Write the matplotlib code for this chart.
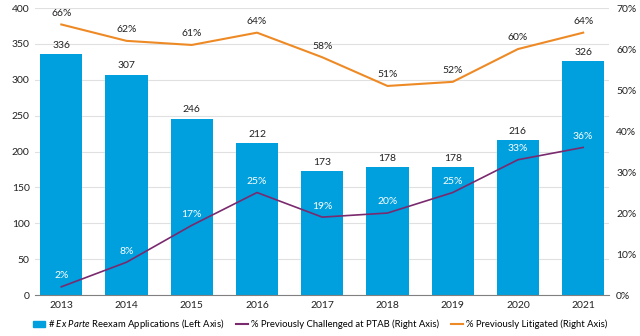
import matplotlib
matplotlib.use("Agg")
import matplotlib.pyplot as plt
from matplotlib.ticker import FuncFormatter
from matplotlib.lines import Line2D
from matplotlib.patches import Patch

plt.rcParams['font.family'] = ['Lato', 'DejaVu Sans']
plt.rcParams['mathtext.fontset'] = 'custom'
plt.rcParams['mathtext.rm'] = 'Lato'
plt.rcParams['mathtext.it'] = 'Lato:italic'

years = ['2013', '2014', '2015', '2016', '2017', '2018', '2019', '2020', '2021']
applications = [336, 307, 246, 212, 173, 178, 178, 216, 326]
ptab_pct = [2, 8, 17, 25, 19, 20, 25, 33, 36]
litigated_pct = [66, 62, 61, 64, 58, 51, 52, 60, 64]

blue = '#009FDD'
purple = '#7A2A6E'
orange = '#EE8A25'

fig = plt.figure(figsize=(6.4, 3.36), dpi=100)
ax = fig.add_axes([0.055, 0.122, 0.897, 0.854])
x = list(range(len(years)))
ax.bar(x, applications, width=0.65, color=blue, zorder=2)
ax.set_ylim(0, 400)
ax.set_xlim(-0.4, 8.4)
ax.set_yticks(range(0, 401, 50))
ax.grid(axis='y', color='#E0E0E0', linewidth=0.8, zorder=0)
ax.set_axisbelow(True)
for s in ['top', 'right', 'left']:
    ax.spines[s].set_visible(False)
ax.spines['bottom'].set_color('#808080')
ax.set_xticks(x)
ax.set_xticklabels(years)
ax.tick_params(axis='both', length=0, labelsize=7.5, colors='#222222', pad=4)
for xi, v in zip(x, applications):
    ax.text(xi, v + 6, str(v), ha='center', va='bottom', fontsize=7.5, color='#222222')

ax2 = ax.twinx()
ax2.set_ylim(0, 70)
ax2.set_yticks(range(0, 71, 10))
ax2.yaxis.set_major_formatter(FuncFormatter(lambda v, p: f'{int(v)}%'))
ax2.tick_params(axis='y', length=0, labelsize=7.5, colors='#222222', pad=5)
for s in ['top', 'right', 'left', 'bottom']:
    ax2.spines[s].set_visible(False)
ax2.plot(x, ptab_pct, color=purple, linewidth=1.2, zorder=3)
ax2.plot(x, litigated_pct, color=orange, linewidth=1.5, zorder=3)
for xi, v in zip(x, ptab_pct):
    ax2.text(xi, v + 1.6, f'{v}%', ha='center', va='bottom', fontsize=7.5, color='white')
for xi, v in zip(x, litigated_pct):
    ax2.text(xi, v + 1.6, f'{v}%', ha='center', va='bottom', fontsize=7.5, color='#222222')

handles = [Patch(color=blue), Line2D([], [], color=purple, lw=1.5), Line2D([], [], color=orange, lw=1.5)]
labels = ['# $\\it{Ex\\ Parte}$ Reexam Applications (Left Axis)',
          '% Previously Challenged at PTAB (Right Axis)',
          '% Previously Litigated (Right Axis)']
fig.legend(handles, labels, loc='center', bbox_to_anchor=(0.5, 0.035), ncol=3, frameon=False,
           fontsize=6.8, handlelength=1.3, handletextpad=0.3, columnspacing=1.2, borderaxespad=0)

fig.savefig('out.png', dpi=100)
